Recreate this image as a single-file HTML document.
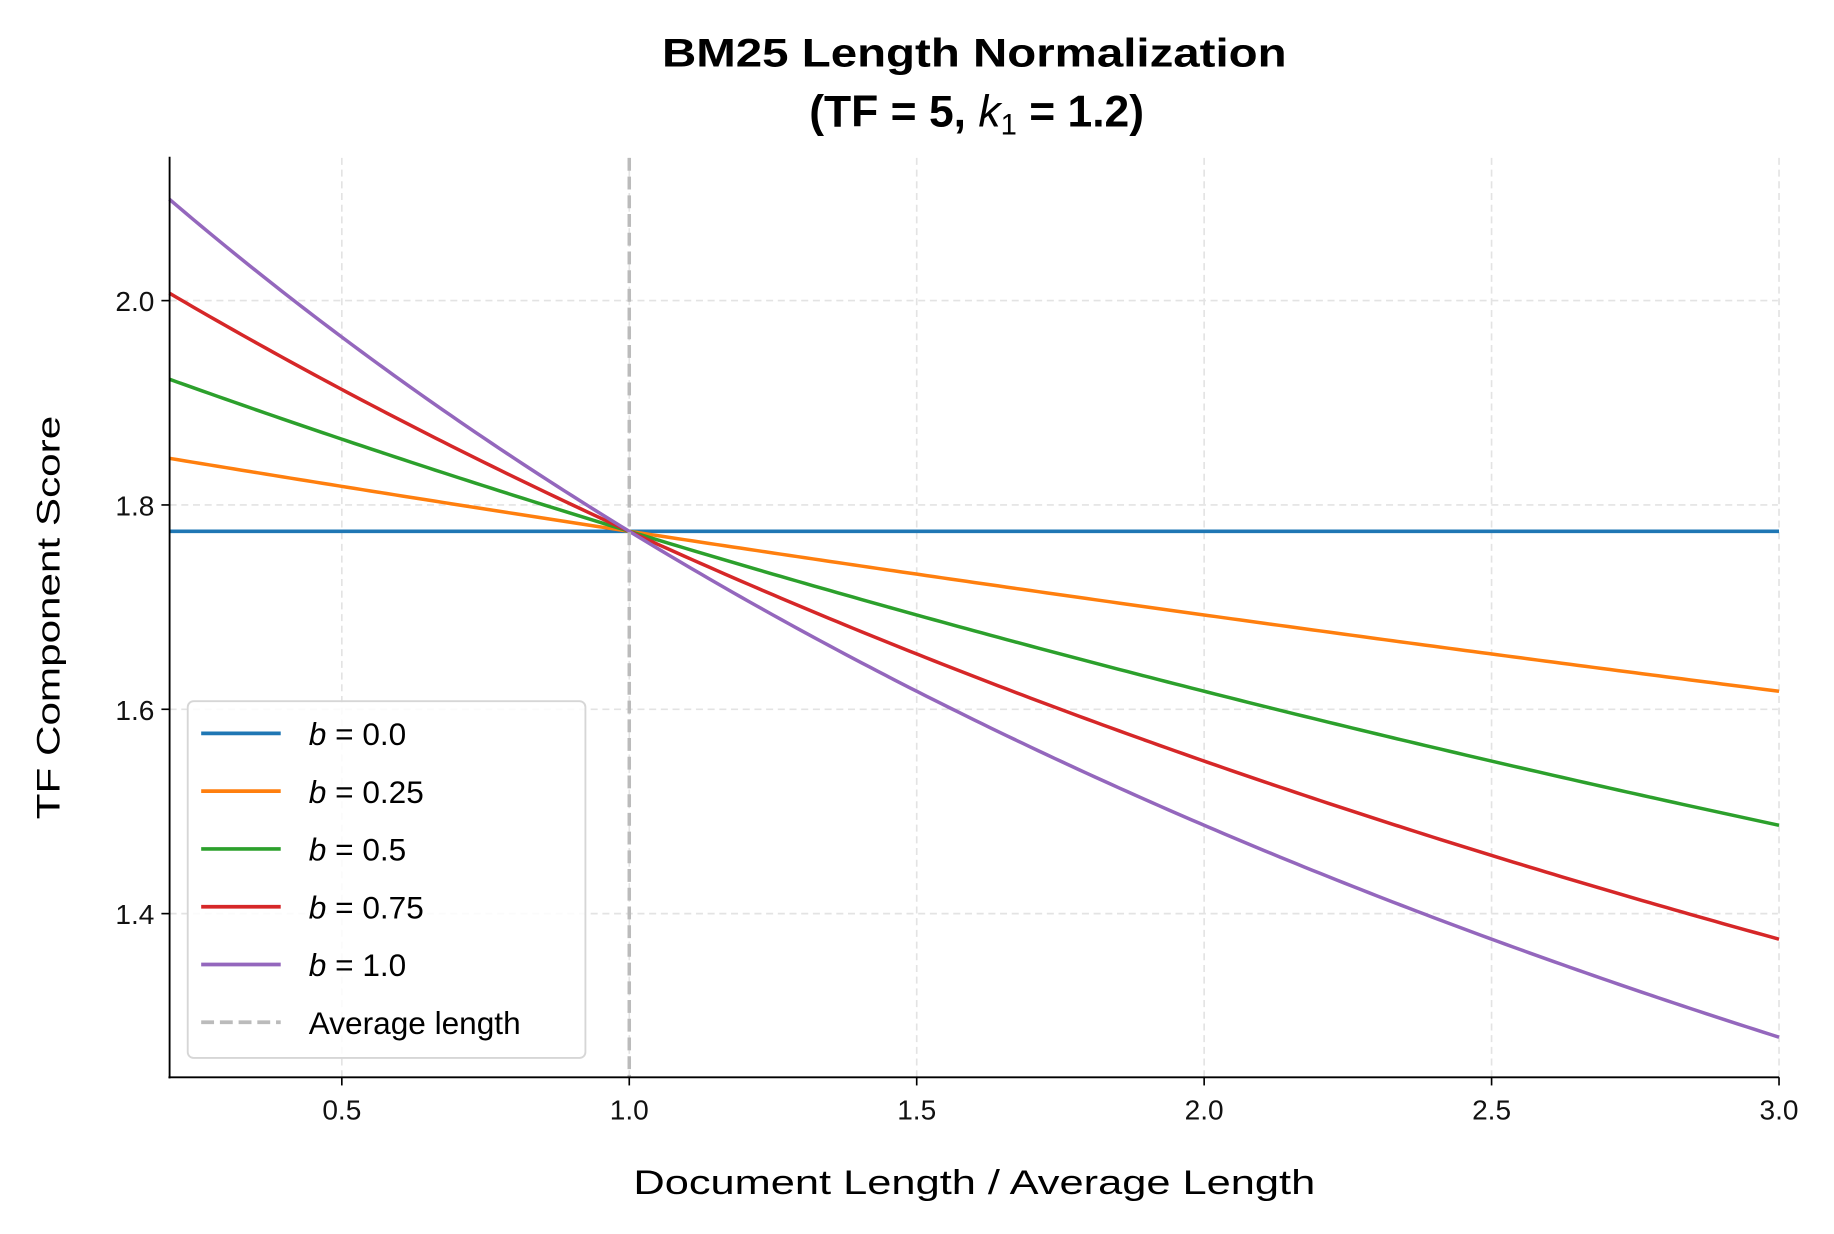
<!DOCTYPE html>
<html><head><meta charset="utf-8"><style>
html,body{margin:0;padding:0;background:#fff;}
svg{display:block;font-family:"Liberation Sans",sans-serif;}
</style></head><body>
<svg id="s" width="1834" height="1234" viewBox="0 0 1568 1055" xmlns="http://www.w3.org/2000/svg">
<rect width="1568" height="1055" fill="#fff"/>
<g id="grid" stroke="#e3e3e3" stroke-width="1.4" stroke-dasharray="6,4"></g>
<g id="series" fill="none" stroke-width="3"></g>
<line x1="538" y1="135" x2="538" y2="921" stroke="#bbb" stroke-width="3" stroke-dasharray="11,5"/>
<line x1="145" y1="134" x2="145" y2="922" stroke="#000" stroke-width="1.6"/>
<line x1="144" y1="921" x2="1521" y2="921" stroke="#000" stroke-width="1.6"/>
<g id="ticks" stroke="#000" stroke-width="1.4"></g>
<g id="labels" font-size="24" fill="#111"></g>
<text x="833" y="57" text-anchor="middle" font-size="34" font-weight="bold" textLength="534" lengthAdjust="spacingAndGlyphs">BM25 Length Normalization</text>
<text x="835" y="108" text-anchor="middle" font-size="38" font-weight="bold">(TF = 5, <tspan font-style="italic" font-weight="normal">k</tspan><tspan font-size="25" dy="7" font-weight="normal">1</tspan><tspan dy="-7"> = 1.2)</tspan></text>
<text x="833" y="1021" text-anchor="middle" font-size="29" textLength="583" lengthAdjust="spacingAndGlyphs">Document Length / Average Length</text>
<text transform="translate(51,528) rotate(-90)" text-anchor="middle" font-size="28" textLength="345" lengthAdjust="spacingAndGlyphs">TF Component Score</text>
<rect x="160.5" y="599.5" width="340" height="305" rx="5" fill="#fff" fill-opacity="0.85" stroke="#d6d6d6" stroke-width="1.6"/>
<g id="leg" font-size="27"></g>
</svg>
<script>
var X=function(v){return 538+(v-1)*491.5;}, Y=function(v){return 257+(2-v)*873.5;};
var ns="http://www.w3.org/2000/svg";
function el(p,t,a,txt){var e=document.createElementNS(ns,t);for(var k in a)e.setAttribute(k,a[k]);if(txt!=null)e.textContent=txt;document.getElementById(p).appendChild(e);return e;}
[0.5,1,1.5,2,2.5,3].forEach(function(v){var x=X(v);el('grid','line',{x1:x,y1:135,x2:x,y2:921});el('ticks','line',{x1:x,y1:921,x2:x,y2:928});el('labels','text',{x:x,y:957,'text-anchor':'middle'},v.toFixed(1));});
[1.4,1.6,1.8,2.0].forEach(function(v){var y=Y(v);el('grid','line',{x1:145,y1:y,x2:1520,y2:y});el('ticks','line',{x1:138,y1:y,x2:145,y2:y});el('labels','text',{x:132,y:y+9,'text-anchor':'end'},v.toFixed(1));});
var bs=[0,0.25,0.5,0.75,1],cols=['#1f77b4','#ff7f0e','#2ca02c','#d62728','#9467bd'],lab=['0.0','0.25','0.5','0.75','1.0'];
bs.forEach(function(b,i){var d='';for(var j=0;j<=200;j++){var x=0.2+2.8*j/200;var s=11/(5+1.2*(1-b+b*x));d+=(j?'L':'M')+X(x).toFixed(2)+','+Y(s).toFixed(2);}el('series','path',{d:d,stroke:cols[i]});
var ly=627+i*49.4;el('leg','line',{x1:172,y1:ly,x2:240,y2:ly,stroke:cols[i],'stroke-width':3.2});
var t=el('leg','text',{x:264,y:ly+10});var a=document.createElementNS(ns,'tspan');a.setAttribute('font-style','italic');a.textContent='b';t.appendChild(a);t.appendChild(document.createTextNode(' = '+lab[i]));});
el('leg','line',{x1:172,y1:874,x2:240,y2:874,stroke:'#bbb','stroke-width':3.2,'stroke-dasharray':'11,5'});
el('leg','text',{x:264,y:884},'Average length');
</script>
</body></html>
